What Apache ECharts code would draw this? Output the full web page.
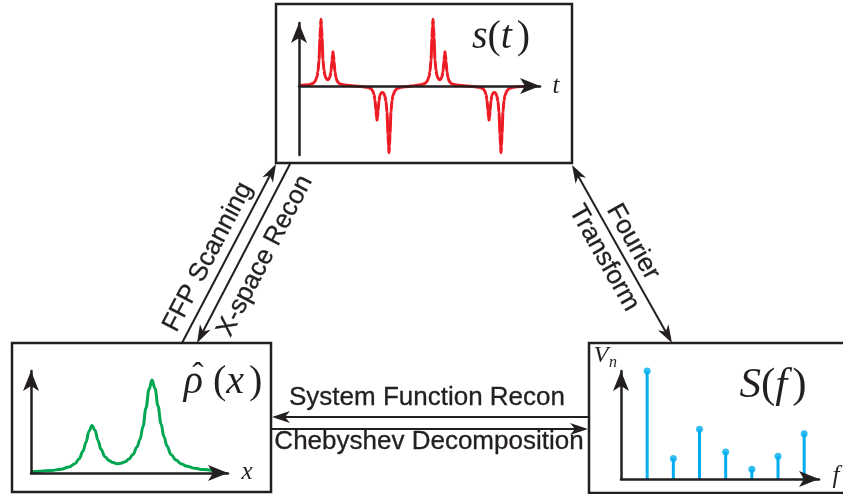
<!DOCTYPE html>
<html>
<head>
<meta charset="utf-8">
<script src="https://cdn.jsdelivr.net/npm/echarts@6/dist/echarts.min.js"></script>
<style>
  html, body { margin: 0; padding: 0; background: #fff; }
  #chart { width: 843px; height: 494px; }
</style>
</head>
<body>
<div id="chart"></div>
<script>
// s(t) — received signal (t in arbitrary time units)
const sigT = [0, 10, 14, 16, 18, 19, 20, 21, 21.5, 22, 22.5, 23, 24, 25, 26, 27, 28, 29, 30, 31, 32, 33, 33.5, 34, 34.5, 35, 36, 37, 38, 40, 42, 46, 50,
  56, 62, 66, 70, 72, 74, 75, 76, 77, 77.5, 78, 78.5, 79, 80, 81, 82, 83, 84, 85, 86, 87, 88, 89, 89.5, 90, 90.5, 91, 92, 93, 94, 96, 98, 102, 106,
  112, 122, 126, 128, 130, 131, 132, 133, 133.5, 134, 134.5, 135, 136, 137, 138, 139, 140, 141, 142, 143, 144, 145, 145.5, 146, 146.5, 147, 148, 149, 150, 152, 154, 158, 162,
  168, 174, 178, 182, 184, 186, 187, 188, 189, 189.5, 190, 190.5, 191, 192, 193, 194, 195, 196, 197, 198, 199, 200, 201, 201.5, 202, 202.5, 203, 204, 205, 206, 208, 210, 214, 218, 224, 232];
const sigS = [0.01, 0.02, 0.04, 0.07, 0.14, 0.22, 0.39, 0.72, 0.91, 1.01, 0.91, 0.73, 0.40, 0.235, 0.16, 0.12, 0.10, 0.097, 0.11, 0.14, 0.22, 0.38, 0.47, 0.52, 0.47, 0.375, 0.21, 0.13, 0.08, 0.04, 0.026, 0.014, 0.008,
  0, -0.008, -0.014, -0.026, -0.04, -0.08, -0.13, -0.21, -0.375, -0.47, -0.52, -0.47, -0.38, -0.22, -0.14, -0.11, -0.097, -0.10, -0.12, -0.16, -0.235, -0.40, -0.73, -0.91, -1.01, -0.91, -0.72, -0.39, -0.22, -0.14, -0.07, -0.04, -0.02, -0.012,
  0, 0.02, 0.04, 0.07, 0.14, 0.22, 0.39, 0.72, 0.91, 1.01, 0.91, 0.73, 0.40, 0.235, 0.16, 0.12, 0.10, 0.097, 0.11, 0.14, 0.22, 0.38, 0.47, 0.52, 0.47, 0.375, 0.21, 0.13, 0.08, 0.04, 0.026, 0.014, 0.008,
  0, -0.008, -0.014, -0.026, -0.04, -0.08, -0.13, -0.21, -0.375, -0.47, -0.52, -0.47, -0.38, -0.22, -0.14, -0.11, -0.097, -0.10, -0.12, -0.16, -0.235, -0.40, -0.73, -0.91, -1.01, -0.91, -0.72, -0.39, -0.22, -0.14, -0.07, -0.04, -0.02, -0.012, -0.006, -0.003];

// rho-hat(x) — reconstructed image
const rhoX = [0, 10, 20, 30, 38, 44, 48, 52, 55, 58, 61, 64, 67, 70, 74, 78, 82, 86, 90, 94, 98, 102, 106, 109, 112, 115, 118, 121, 124, 127, 130, 133, 136, 140, 145, 150, 156, 164, 172, 182];
const rhoV = [0.013, 0.02, 0.027, 0.04, 0.065, 0.10, 0.15, 0.235, 0.33, 0.45, 0.51, 0.46, 0.35, 0.255, 0.175, 0.135, 0.112, 0.10, 0.105, 0.12, 0.15, 0.20, 0.28, 0.36, 0.50, 0.70, 0.90, 1.0, 0.91, 0.72, 0.53, 0.39, 0.29, 0.20, 0.14, 0.10, 0.072, 0.05, 0.037, 0.027];

// S(f) — harmonic amplitudes V_n
const harmN = [1, 2, 3, 4, 5, 6, 7];
const harmV = [1.0, 0.19, 0.46, 0.25, 0.09, 0.21, 0.42];

const INK = "#231f20";
const RED = "#ed1c24";
const GREEN = "#00a651";
const BLUE = "#00aeef";
const SANS = '"Liberation Sans", Arial, sans-serif';
const SERIF = '"Liberation Serif", serif';

function plotAxis(gridIndex, min, max) {
  return {
    type: "value",
    gridIndex: gridIndex,
    min: min,
    max: max,
    z: 5,
    axisLine: {
      show: true,
      symbol: ["none", "arrow"],
      symbolSize: [12, 20],
      lineStyle: { color: INK, width: 2.5 }
    },
    axisTick: { show: false },
    axisLabel: { show: false },
    splitLine: { show: false }
  };
}

function arrowHead(tip, from, len, half) {
  const dx = tip[0] - from[0];
  const dy = tip[1] - from[1];
  const l = Math.hypot(dx, dy);
  const ux = dx / l, uy = dy / l;
  const bx = tip[0] - ux * len, by = tip[1] - uy * len;
  const nx = -uy, ny = ux;
  return {
    type: "polygon",
    shape: {
      points: [
        tip,
        [bx + nx * half, by + ny * half],
        [tip[0] - ux * len * 0.72, tip[1] - uy * len * 0.72],
        [bx - nx * half, by - ny * half]
      ]
    },
    style: { fill: INK }
  };
}

function connector(a, b, headA, headB) {
  const len = 18, half = 6;
  const dx = b[0] - a[0], dy = b[1] - a[1];
  const l = Math.hypot(dx, dy);
  const ux = dx / l, uy = dy / l;
  const s = headA ? [a[0] + ux * len * 0.6, a[1] + uy * len * 0.6] : a;
  const e = headB ? [b[0] - ux * len * 0.6, b[1] - uy * len * 0.6] : b;
  const out = [{
    type: "line",
    shape: { x1: s[0], y1: s[1], x2: e[0], y2: e[1] },
    style: { stroke: INK, lineWidth: 2 }
  }];
  if (headA) out.push(arrowHead(a, b, len, half));
  if (headB) out.push(arrowHead(b, a, len, half));
  return out;
}

function label(x, y, text, rot) {
  return {
    type: "text",
    x: x,
    y: y,
    rotation: rot * Math.PI / 180,
    style: {
      text: text,
      fontSize: 26,
      fontFamily: SANS,
      fill: INK,
      stroke: INK,
      lineWidth: 0.3,
      align: "center",
      verticalAlign: "middle",
      textAlign: "center",
      textVerticalAlign: "middle"
    }
  };
}

function box(x, y, w, h) {
  return {
    type: "rect",
    shape: { x: x, y: y, width: w, height: h },
    style: { fill: "none", stroke: INK, lineWidth: 2.5 }
  };
}

function mathLabel(x, y, text, size) {
  return {
    type: "text",
    x: x,
    y: y,
    style: {
      text: text,
      fill: INK,
      fontSize: size,
      fontFamily: SERIF,
      align: "center",
      verticalAlign: "middle",
      textAlign: "center",
      textVerticalAlign: "middle",
      rich: {
        i: { fontSize: size, fontFamily: SERIF, fontStyle: "italic", fill: INK },
        r: { fontSize: size, fontFamily: SERIF, fontStyle: "normal", fill: INK },
        s: { fontSize: size, fontFamily: SERIF, fill: INK, width: size * 0.12 }
      }
    }
  };
}

const graphics = [
  box(276, 4, 296, 159),
  box(12, 343, 259, 149),
  box(589, 343, 260, 150),
  ...connector([182, 343], [276, 164], false, true),
  ...connector([290, 164], [197, 343], false, true),
  ...connector([572, 165], [672, 343], true, true),
  ...connector([588, 417], [272, 417], false, true),
  ...connector([271, 429], [588, 429], false, true),
  label(208, 257, "FFP Scanning", 62.4),
  label(265, 256, "X-space Recon", 62.4),
  label(633, 242, "Fourier", -60.7),
  label(604, 258, "Transform", -60.7),
  label(427, 398, "System Function Recon", 0),
  label(429, 442, "Chebyshev Decomposition", 0),
  mathLabel(501, 37, "{i|s}{r|(}{i|t}{s|}{r|)}", 40),
  mathLabel(223, 382, "{i|\u03C1}{r| (}{i|x}{s|}{r|)}", 40),
  mathLabel(198, 377, "{r|\u02C6}", 34),
  mathLabel(773, 386, "{i|S}{r|(}{i|f}{s|}{r|)}", 43),
  mathLabel(556, 86, "{i|t}", 25),
  mathLabel(247, 472, "{i|x}", 25),
  mathLabel(836, 476, "{i|f}", 25),
  mathLabel(601, 356, "{i|V}", 24),
  mathLabel(613, 363, "{i|n}", 16)
];

const chart = echarts.init(document.getElementById("chart"));

chart.setOption({
  animation: false,
  backgroundColor: "#ffffff",
  grid: [
    { left: 299, top: 23, width: 241, height: 132, outerBoundsMode: "none" },
    { left: 31, top: 371, width: 197, height: 102, outerBoundsMode: "none" },
    { left: 621, top: 371, width: 198, height: 108, outerBoundsMode: "none" }
  ],
  xAxis: [
    plotAxis(0, 0, 241),
    plotAxis(1, 0, 197),
    plotAxis(2, 0, 7.566)
  ],
  yAxis: [
    plotAxis(0, -1.045, 0.955),
    plotAxis(1, 0, 1.097),
    plotAxis(2, 0, 1.0)
  ],
  series: [
    {
      type: "line",
      xAxisIndex: 0,
      yAxisIndex: 0,
      data: sigT.map((t, i) => [t, sigS[i]]),
      showSymbol: false,
      smooth: 0.3,
      smoothMonotone: "x",
      clip: false,
      lineStyle: { color: RED, width: 3 }
    },
    {
      type: "line",
      xAxisIndex: 1,
      yAxisIndex: 1,
      data: rhoX.map((x, i) => [x, rhoV[i]]),
      showSymbol: false,
      smooth: 0.4,
      smoothMonotone: "x",
      clip: false,
      lineStyle: { color: GREEN, width: 3 }
    },
    {
      type: "bar",
      xAxisIndex: 2,
      yAxisIndex: 2,
      data: harmN.map((n, i) => [n, harmV[i]]),
      barWidth: 3,
      clip: false,
      itemStyle: { color: BLUE }
    },
    {
      type: "scatter",
      xAxisIndex: 2,
      yAxisIndex: 2,
      data: harmN.map((n, i) => [n, harmV[i]]),
      symbolSize: 7,
      clip: false,
      itemStyle: { color: BLUE }
    }
  ],
  graphic: graphics
});
</script>
</body>
</html>
